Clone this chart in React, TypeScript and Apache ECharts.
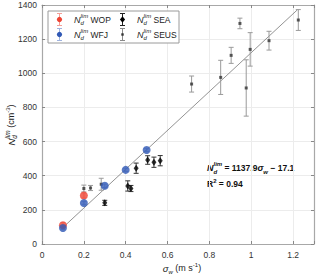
import React, { useEffect, useRef } from "react";
import * as echarts from "echarts";

// ---- data ----
const wopX = [0.1, 0.2];
const wopY = [110, 284];
const wopErr = [15, 15];

const wfjX = [0.1, 0.2, 0.3, 0.4, 0.5];
const wfjY = [94, 240, 341, 434, 551];
const wfjErr = [10, 10, 10, 10, 10];

const seaX = [0.3, 0.41, 0.425, 0.45, 0.505, 0.535, 0.565];
const seaY = [241, 340, 325, 444, 492, 479, 488];
const seaErr = [15, 30, 18, 30, 25, 30, 30];

const seusX = [0.2, 0.232, 0.283, 0.715, 0.854, 0.904, 0.946, 0.976, 0.995, 1.085, 1.225];
const seusY = [325, 328, 350, 937, 976, 1105, 1292, 914, 1140, 1191, 1312];
const seusErr = [20, 15, 35, 47, 100, 47, 31, 165, 98, 55, 61];

const fitSlope = 1137.9;
const fitIntercept = -17.1;
const fitRange = [0.1, 1.22];

const xTicks = [0, 0.2, 0.4, 0.6, 0.8, 1, 1.2];
const yTicks = [0, 200, 400, 600, 800, 1000, 1200, 1400];

const FONT = "Liberation Sans, Arial, sans-serif";
const RED = "#ee4433";
const BLUE = "#3159b5";
const SEUS_C = "#8a8a8a";

let ctx: CanvasRenderingContext2D | null = null;
function tw(text: string, size: number, style = "normal", weight = "normal") {
  if (!ctx) ctx = document.createElement("canvas").getContext("2d");
  if (!ctx) return text.length * size * 0.55;
  ctx.font = `${style} ${weight} ${size}px ${FONT}`;
  return ctx.measureText(text).width;
}

function errRender(color: string, cap: number) {
  return (params: any, api: any) => {
    const x = api.value(0);
    const y = api.value(1);
    const e = api.value(2);
    const t = api.coord([x, y + e]);
    const b = api.coord([x, y - e]);
    const st = { stroke: color, lineWidth: 1 };
    return {
      type: "group",
      children: [
        { type: "line", shape: { x1: t[0], y1: t[1], x2: b[0], y2: b[1] }, style: st },
        { type: "line", shape: { x1: t[0] - cap, y1: t[1], x2: t[0] + cap, y2: t[1] }, style: st },
        { type: "line", shape: { x1: b[0] - cap, y1: b[1], x2: b[0] + cap, y2: b[1] }, style: st },
      ],
    };
  };
}

function zip3(a: number[], b: number[], c: number[]) {
  return a.map((v, i) => [v, b[i], c[i]]);
}
function zip2(a: number[], b: number[]) {
  return a.map((v, i) => [v, b[i]]);
}

type Piece = { t: string; size: number; italic?: boolean; bold?: boolean; dy?: number; stack?: boolean };

function layout(x: number, y: number, pieces: Piece[], color: string) {
  const out: any[] = [];
  let cx = x;
  let lastX = x;
  pieces.forEach((p) => {
    const st = p.italic ? "italic" : "normal";
    const wt = p.bold ? "bold" : "normal";
    const w = tw(p.t, p.size, st, wt);
    let px = cx;
    if (p.stack) {
      px = lastX;
      cx = Math.max(cx, lastX + w);
    } else {
      cx = cx + w;
    }
    lastX = px;
    out.push({
      type: "text", x: px, y: y + (p.dy || 0),
      style: { text: p.t, fontSize: p.size, fontStyle: st, fontWeight: wt, fontFamily: FONT, fill: color, verticalAlign: "middle", align: "left" },
    });
  });
  return { items: out, width: cx - x };
}

function ndPieces(nSize: number, sSize: number, bold = false): Piece[] {
  return [
    { t: "N", size: nSize, italic: true, bold },
    { t: "lim", size: sSize, italic: true, bold, dy: -nSize * 0.42 },
    { t: "d", size: sSize, italic: true, bold, dy: nSize * 0.4, stack: true },
  ];
}

function legendMarker(x: number, y: number, kind: string) {
  const items: any[] = [];
  const ec = kind === "wop" ? "#f4a098" : kind === "wfj" ? "#9fb3df" : kind === "sea" ? "#222" : SEUS_C;
  const half = 6;
  items.push({ type: "line", shape: { x1: x, y1: y - half, x2: x, y2: y + half }, style: { stroke: ec, lineWidth: 1 } });
  items.push({ type: "line", shape: { x1: x - 2.5, y1: y - half, x2: x + 2.5, y2: y - half }, style: { stroke: ec, lineWidth: 1 } });
  items.push({ type: "line", shape: { x1: x - 2.5, y1: y + half, x2: x + 2.5, y2: y + half }, style: { stroke: ec, lineWidth: 1 } });
  if (kind === "wop") items.push({ type: "circle", shape: { cx: x, cy: y, r: 2.6 }, style: { fill: RED } });
  if (kind === "wfj") items.push({ type: "circle", shape: { cx: x, cy: y, r: 2.6 }, style: { fill: BLUE } });
  if (kind === "sea")
    items.push({ type: "polygon", shape: { points: [[x, y - 3.2], [x + 2.6, y], [x, y + 3.2], [x - 2.6, y]] }, style: { fill: "#000" } });
  if (kind === "seus") items.push({ type: "rect", shape: { x: x - 1.2, y: y - 1.2, width: 2.4, height: 2.4 }, style: { fill: "#333" } });
  return items;
}

export default function App() {
  const ref = useRef<HTMLDivElement>(null);
  useEffect(() => {
    if (!ref.current) return;
    const chart = echarts.init(ref.current, undefined, { renderer: "svg" });
    const axisLine = { show: true, onZero: false, lineStyle: { color: "#a8a8a8", width: 1.2 } };
    const splitLine = { show: true, lineStyle: { color: "#ececec", width: 1 } };
    const axisTick = { show: true, inside: true, length: 3, lineStyle: { color: "#888" } };
    const xBase = { type: "value", min: 0, max: 1.3, interval: 0.2 };
    const yBase = { type: "value", min: 0, max: 1400, interval: 200 };

    const graphic: any[] = [];
    graphic.push({ type: "rect", shape: { x: 48, y: 11, width: 131, height: 32 }, style: { fill: "#fff", stroke: "#9a9a9a", lineWidth: 1 }, z: 100 });
    const legendRows = [
      { x: 59.5, y: 19.5, kind: "wop", label: " WOP" },
      { x: 59.5, y: 34.5, kind: "wfj", label: " WFJ" },
      { x: 122.5, y: 19.5, kind: "sea", label: " SEA" },
      { x: 122.5, y: 34.5, kind: "seus", label: " SEUS" },
    ];
    legendRows.forEach((r) => {
      legendMarker(r.x, r.y, r.kind).forEach((m) => graphic.push({ ...m, z: 101 }));
      const l = layout(r.x + 14.5, r.y, [...ndPieces(9, 6), { t: r.label, size: 8.5 }], "#222");
      l.items.forEach((t) => graphic.push({ ...t, z: 101 }));
    });
    const ann = layout(207, 168, [
      ...ndPieces(9, 6, true),
      { t: " = " + fitSlope.toFixed(1), size: 8.5, bold: true },
      { t: "σ", size: 9, bold: true, italic: true },
      { t: "w", size: 6, bold: true, italic: true, dy: 3.5 },
      { t: " − " + Math.abs(fitIntercept).toFixed(1), size: 8.5, bold: true },
    ], "#111");
    ann.items.forEach((t) => graphic.push(t));
    const r2 = layout(207, 184, [
      { t: "R", size: 8.5, bold: true },
      { t: "2", size: 6, bold: true, dy: -3.5 },
      { t: " = 0.94", size: 8.5, bold: true },
    ], "#111");
    r2.items.forEach((t) => graphic.push(t));
    const xtPieces: Piece[] = [
      { t: "σ", size: 9.5, italic: true },
      { t: "w", size: 6, italic: true, dy: 4 },
      { t: " (m s", size: 9 },
      { t: "-1", size: 6, dy: -3.5 },
      { t: ")", size: 9 },
    ];
    const xtW = layout(0, 0, xtPieces, "#222").width;
    layout(182 - xtW / 2, 268, xtPieces, "#222").items.forEach((t) => graphic.push(t));
    const ytPieces: Piece[] = [
      ...ndPieces(9.5, 6.5),
      { t: " (cm", size: 9 },
      { t: "-3", size: 6, dy: -3.5 },
      { t: ")", size: 9 },
    ];
    const ytW = layout(0, 0, ytPieces, "#222").width;
    graphic.push({
      type: "group", x: 11, y: 125 + ytW / 2, rotation: Math.PI / 2,
      children: layout(0, 0, ytPieces, "#222").items,
    });

    const labelBase = { show: true, showMinLabel: true, color: "#333", fontFamily: FONT, fontSize: 8.5 };

    chart.setOption({
      animation: false,
      backgroundColor: "#fff",
      grid: { left: 42, right: 6, top: 5, bottom: 34, containLabel: false },
      xAxis: [
        {
          ...xBase, position: "bottom", axisLine, splitLine, axisTick,
          axisLabel: {
            ...labelBase, margin: 6,
            formatter: (v: number) => (xTicks.some((t) => Math.abs(t - v) < 1e-9) ? String(+v.toFixed(1)) : ""),
          },
        },
        { ...xBase, position: "top", axisLine, splitLine: { show: false }, axisTick, axisLabel: { show: false } },
      ],
      yAxis: [
        {
          ...yBase, position: "left", axisLine, splitLine, axisTick,
          axisLabel: {
            ...labelBase, margin: 5,
            formatter: (v: number) => (yTicks.includes(v) ? String(v) : ""),
          },
        },
        { ...yBase, position: "right", axisLine, splitLine: { show: false }, axisTick, axisLabel: { show: false } },
      ],
      graphic,
      series: [
        {
          type: "line", data: fitRange.map((x) => [x, fitSlope * x + fitIntercept]),
          showSymbol: false, symbol: "none", lineStyle: { color: "#777", width: 0.8 }, z: 2,
        },
        { type: "custom", data: zip3(seusX, seusY, seusErr), renderItem: errRender("#9a9a9a", 2.5), z: 3 },
        { type: "custom", data: zip3(seaX, seaY, seaErr), renderItem: errRender("#333", 2.5), z: 3 },
        { type: "custom", data: zip3(wopX, wopY, wopErr), renderItem: errRender("#f4a098", 2.5), z: 3 },
        { type: "custom", data: zip3(wfjX, wfjY, wfjErr), renderItem: errRender("#9fb3df", 2.5), z: 3 },
        { type: "scatter", data: zip2(seusX, seusY), symbol: "rect", symbolSize: 3, itemStyle: { color: "#333" }, z: 4 },
        { type: "scatter", data: zip2(seaX, seaY), symbol: "diamond", symbolSize: [5, 7], itemStyle: { color: "#000" }, z: 4 },
        { type: "scatter", data: zip2(wopX, wopY), symbol: "circle", symbolSize: 8, itemStyle: { color: RED }, z: 5 },
        { type: "scatter", data: zip2(wfjX, wfjY), symbol: "circle", symbolSize: 8, itemStyle: { color: BLUE }, z: 5 },
      ],
    });
    return () => chart.dispose();
  }, []);
  return <div ref={ref} style={{ width: 320, height: 278, position: "absolute", left: 0, top: 0 }} />;
}
